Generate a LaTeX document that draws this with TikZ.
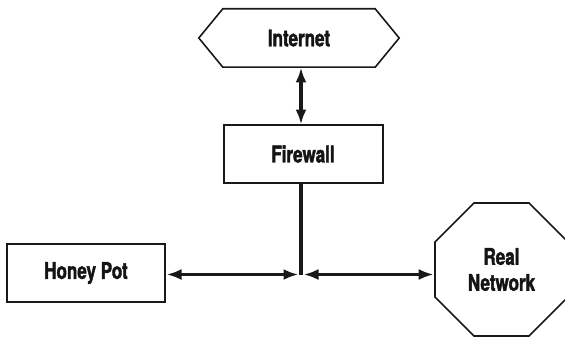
\documentclass[tikz,border=0pt]{standalone}
\usepackage{fontspec}
\setmainfont{TeX Gyre Heros}[FakeStretch=0.74, FakeBold=1.8]
\usetikzlibrary{shapes.geometric,arrows.meta,calc}
\begin{document}
\begin{tikzpicture}[x=1pt,y=-1pt,
  lbl/.style={font=\fontsize{23}{26}\selectfont\bfseries, align=center, text=black!92},
  boxnode/.style={lbl, draw=black!90, line width=2pt, rectangle, inner sep=0pt},
  link/.style={draw=black!90, line width=3.2pt, {Latex[length=15pt,width=11pt]}-{Latex[length=15pt,width=11pt]}, shorten <=0.5pt, shorten >=0.5pt}
]
\useasboundingbox (0,0) rectangle (565,337);
% Internet hexagon
\node[lbl, minimum width=152pt, minimum height=58pt, inner sep=0pt] (internet) at (299,38) {Internet};
\draw[draw=black!90, line width=1.6pt, line join=miter]
  (internet.north west) -- (internet.north east) -- ($(internet.east)+(24,0)$) -- (internet.south east)
  -- (internet.south west) -- ($(internet.west)+(-24,0)$) -- cycle;
% Firewall
\node[boxnode, minimum width=159pt, minimum height=58pt] (fw) at (303,154) {Firewall};
% Honey Pot
\node[boxnode, minimum width=158pt, minimum height=58pt] (hp) at (86,273) {Honey Pot};
% Real Network octagon
\node[lbl, draw=black!90, line width=1.6pt, regular polygon, regular polygon sides=8,
      minimum size=144pt, inner sep=0pt] (rn) at (501.5,269.5) {Real\\Network};
% junction
\coordinate (j) at (301,274.5);
\coordinate (fwb) at (301,183);
\coordinate (fwt) at (301,125);
\coordinate (inb) at (301,67);
% connectors
\draw[link] (inb) -- (fwt);
\draw[draw=black!90, line width=3.2pt] (fwb) -- (j);
\draw[link] (hp.east |- j) -- ($(j)+(-2,0)$);
\draw[link] ($(j)+(2,0)$) -- (rn.west |- j);
\end{tikzpicture}
\end{document}
